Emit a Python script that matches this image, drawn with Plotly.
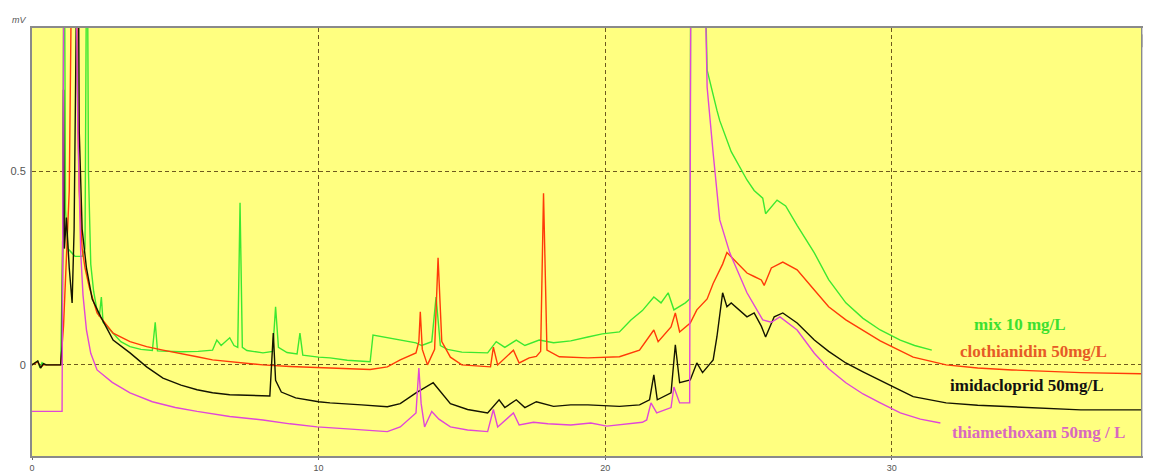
import plotly.graph_objects as go

# ---------------- data (time in min, signal in mV) ----------------
mix_t = [0, 0.2, 0.28, 0.35, 0.45, 1.0, 1.07, 1.12, 1.17, 1.25, 1.5, 1.75, 1.85, 1.92, 1.97, 2.05, 2.15, 2.27,
         2.35, 2.42, 2.48, 2.6, 2.83, 3.1, 3.42, 3.8, 4.2, 4.3, 4.38, 4.6, 5.2, 5.8, 6.3, 6.45, 6.6, 6.9, 7.05,
         7.18, 7.26, 7.34, 7.5, 8.06, 8.4, 8.5, 8.6, 8.9, 9.25, 9.35, 9.45, 10.0, 10.4, 11.0, 11.8, 11.9, 12.4,
         13.0, 13.4, 13.6, 13.95, 14.1, 14.25, 14.5, 15.0, 15.9, 16.2, 16.5, 16.9, 17.2, 17.7, 18.2, 18.8, 19.4,
         19.9, 20.5, 20.9, 21.3, 21.7, 21.95, 22.2, 22.4, 22.8, 22.95, 23.0, 23.4, 23.56, 23.9, 24.0, 24.4,
         24.95, 25.2, 25.5, 25.6, 26.0, 26.3, 26.7, 27.3, 27.8, 28.4, 29.0, 29.6, 30.3, 30.8, 31.4]
mix_v = [0, 0.01, -0.008, 0.006, 0, 0, 0.3, 1.3, 0.4, 0.3, 0.28, 0.28, 0.3, 1.3, 0.5, 0.26, 0.19, 0.14,
         0.125, 0.175, 0.11, 0.1, 0.082, 0.06, 0.047, 0.04, 0.037, 0.11, 0.036, 0.035, 0.034, 0.035, 0.038, 0.064,
         0.05, 0.07, 0.05, 0.045, 0.418, 0.045, 0.037, 0.031, 0.035, 0.15, 0.045, 0.032, 0.028, 0.082, 0.025,
         0.02, 0.018, 0.012, 0.008, 0.077, 0.07, 0.062, 0.057, 0.05, 0.06, 0.175, 0.05, 0.04, 0.033, 0.031,
         0.06, 0.045, 0.064, 0.05, 0.064, 0.057, 0.062, 0.072, 0.08, 0.085, 0.116, 0.14, 0.175, 0.16, 0.186,
         0.142, 0.16, 0.17, 1.3, 1.3, 0.76, 0.657, 0.63, 0.55, 0.477, 0.45, 0.43, 0.39, 0.425, 0.41, 0.36,
         0.289, 0.22, 0.16, 0.12, 0.09, 0.064, 0.05, 0.038]

clo_t = [0, 0.2, 0.3, 0.4, 1.0, 1.1, 1.3, 1.42, 1.55, 1.58, 1.65, 1.75, 1.85, 2.0, 2.27, 2.83, 3.42, 4.0, 4.57,
         5.2, 5.76, 6.3, 6.9, 7.5, 8.06, 9.0, 10.4, 11.0, 11.8, 12.4, 12.85, 13.4, 13.5, 13.55, 13.62, 13.8,
         14.05, 14.17, 14.3, 14.6, 15.0, 16.0, 16.1, 16.25, 16.8, 17.0, 17.35, 17.6, 17.75, 17.85, 17.97, 18.4,
         19.4, 20.5, 21.2, 21.7, 21.85, 22.3, 22.45, 22.6, 22.97, 23.2, 23.56, 23.77, 24.1, 24.25, 24.6, 24.95,
         25.2, 25.45, 25.55, 25.8, 26.2, 26.7, 27.3, 27.8, 28.4, 29.0, 29.6, 30.2, 30.75, 31.9, 33.0, 34.2,
         35.4, 36.6, 38.7]
clo_v = [0, 0.008, -0.006, 0, 0, 0.1, 0.45, 1.3, 1.3, 0.75, 0.45, 0.3, 0.25, 0.2, 0.134, 0.082, 0.06, 0.047,
         0.038, 0.028, 0.021, 0.013, 0.008, 0.004, 0, -0.004, -0.008, -0.01, -0.012, -0.005, 0.013, 0.031, 0.06,
         0.137, 0.04, 0.0, 0.04, 0.276, 0.06, 0.02, 0.0, -0.005, 0.046, 0.0, 0.038, 0.005, 0.018, 0.022, 0.035,
         0.443, 0.038, 0.021, 0.018, 0.021, 0.038, 0.09, 0.06, 0.098, 0.134, 0.085, 0.108, 0.142, 0.17, 0.21,
         0.26, 0.29, 0.263, 0.237, 0.228, 0.219, 0.205, 0.25, 0.265, 0.245, 0.193, 0.15, 0.116, 0.088, 0.062,
         0.04, 0.02, 0.0, -0.008, -0.013, -0.017, -0.02, -0.023]

imi_t = [0, 0.2, 0.3, 0.4, 0.5, 1.0, 1.05, 1.1, 1.13, 1.2, 1.3, 1.4, 1.47, 1.52, 1.6, 1.65, 1.75, 1.9, 2.1, 2.4,
         2.83, 3.42, 4.0, 4.57, 5.2, 5.76, 6.3, 6.9, 7.5, 8.3, 8.42, 8.5, 8.7, 9.2, 10.0, 10.4, 11.5, 12.4,
         12.85, 13.4, 14.0, 14.2, 14.6, 15.2, 15.9, 16.3, 16.5, 16.9, 17.2, 17.6, 18.2, 18.8, 19.4, 20.5, 21.2,
         21.55, 21.7, 21.82, 22.3, 22.45, 22.6, 22.97, 23.2, 23.4, 23.77, 23.9, 24.1, 24.25, 24.4, 24.95, 25.2,
         25.45, 25.6, 25.9, 26.2, 26.7, 27.3, 27.8, 28.4, 29.0, 29.6, 30.2, 30.75, 31.9, 33.0, 34.2, 36.6, 38.7]
imi_v = [0, 0.01, -0.008, 0.003, 0, 0, 0.05, 0.71, 0.3, 0.38, 0.25, 0.16, 0.35, 1.3, 1.3, 0.6, 0.35, 0.25, 0.17,
         0.124, 0.064, 0.031, -0.005, -0.034, -0.052, -0.064, -0.072, -0.077, -0.078, -0.08, 0.082, -0.04,
         -0.07, -0.085, -0.095, -0.098, -0.103, -0.108, -0.1, -0.072, -0.046, -0.065, -0.1, -0.115, -0.124,
         -0.09, -0.11, -0.09, -0.11, -0.095, -0.107, -0.103, -0.103, -0.107, -0.103, -0.09, -0.026, -0.09,
         -0.072, 0.052, -0.046, -0.039, 0.005, -0.02, 0.013, 0.072, 0.186, 0.15, 0.16, 0.124, 0.134, 0.1,
         0.072, 0.124, 0.134, 0.108, 0.064, 0.035, 0.005, -0.018, -0.039, -0.062, -0.082, -0.098, -0.104,
         -0.108, -0.116, -0.116]

thi_t = [0, 1.05, 1.08, 1.13, 1.5, 1.6, 1.7, 1.78, 1.9, 2.05, 2.27, 2.8, 3.42, 4.2, 5.0, 5.76, 6.9, 8.06, 9.0,
         9.95, 11.0, 12.4, 12.85, 13.4, 13.5, 13.58, 13.7, 13.95, 14.2, 14.6, 15.2, 15.9, 16.1, 16.25, 16.8,
         17.0, 17.5, 18.0, 18.8, 19.5, 20.06, 20.5, 21.3, 21.45, 21.6, 21.8, 22.3, 22.4, 22.6, 22.95, 23.0,
         23.4, 23.56, 23.77, 24.0, 24.35, 24.95, 25.5, 25.8, 26.1, 26.7, 27.3, 27.8, 28.4, 29.0, 29.6, 30.3,
         31.0, 31.7]
thi_v = [-0.12, -0.12, 0.5, 1.3, 1.3, 0.6, 0.29, 0.18, 0.09, 0.03, -0.013, -0.045, -0.072, -0.095, -0.11,
         -0.12, -0.133, -0.142, -0.152, -0.16, -0.165, -0.172, -0.16, -0.124, -0.008, -0.1, -0.16, -0.12,
         -0.14, -0.16, -0.168, -0.172, -0.115, -0.16, -0.124, -0.155, -0.148, -0.152, -0.155, -0.15, -0.158,
         -0.155, -0.148, -0.142, -0.098, -0.124, -0.11, -0.057, -0.098, -0.098, 1.3, 1.3, 0.716, 0.546,
         0.374, 0.289, 0.186, 0.116, 0.11, 0.124, 0.09, 0.03, -0.01, -0.046, -0.075, -0.098, -0.124, -0.14,
         -0.15]

x_ticks = [0, 10, 20, 30]
y_ticks = [0, 0.5]
y_tick_labels = ["0", "0.5"]

series = [
    ("mix 10 mg/L", mix_t, mix_v, "#3ce830"),
    ("clothianidin 50mg/L", clo_t, clo_v, "#ff3a08"),
    ("imidacloprid 50mg/L", imi_t, imi_v, "#141400"),
    ("thiamethoxam 50mg / L", thi_t, thi_v, "#e046d8"),
]
label_colors = ["#3ce030", "#e65a26", "#111111", "#d868c0"]
label_pos = [(34.49, 0.103), (34.94, 0.034), (34.69, -0.054), (35.11, -0.175)]

fig = go.Figure()
for name, t, v, c in series:
    fig.add_trace(go.Scatter(x=t, y=v, mode="lines", name=name,
                             line=dict(color=c, width=1.4), hoverinfo="skip"))

for (name, _, _, _), lc, (lx, ly) in zip(series, label_colors, label_pos):
    fig.add_annotation(x=lx, y=ly, xref="x", yref="y", text="<b>%s</b>" % name, showarrow=False,
                       font=dict(family="Liberation Serif", size=17, color=lc))

grid = "#6e5a1e"
# the page body adds an 8px offset; the figure is sized to fill the rest of the 1151x473 window
fig.update_layout(
    width=1143, height=465,
    margin=dict(l=24, r=10, t=20, b=17, autoexpand=False),
    paper_bgcolor="white",
    plot_bgcolor="#ffff80",
    showlegend=False,
    xaxis=dict(range=[0, 38.7], tickvals=x_ticks, ticks="outside", ticklen=2, tickcolor="#666",
               automargin=False,
               showgrid=True, gridcolor=grid, griddash="4px,3px", gridwidth=1,
               zeroline=False, showline=True, linecolor="#8a8a8a", linewidth=2, mirror=True,
               tickfont=dict(family="Liberation Sans", size=9, color="#555")),
    yaxis=dict(range=[-0.235, 0.869], tickvals=y_ticks, ticktext=y_tick_labels, ticks="",
               automargin=False, ticklabelstandoff=2,
               showgrid=True, gridcolor=grid, griddash="4px,3px", gridwidth=1,
               zeroline=False, showline=True, linecolor="#8a8a8a", linewidth=2, mirror=True,
               tickfont=dict(family="Liberation Sans", size=11, color="#555")),
)

# unit labels
fig.add_annotation(x=-0.012, y=1.0, xref="paper", yref="paper", yanchor="bottom", xanchor="center",
                   text="<i>mV</i>", showarrow=False, yshift=1,
                   font=dict(family="Liberation Sans", size=9, color="#555"))
fig.add_annotation(x=1.0015, y=0, xref="paper", yref="paper", yanchor="top", xanchor="left",
                   text="m", showarrow=False, yshift=-1,
                   font=dict(family="Liberation Sans", size=9, color="#555"))

# scrollbar strip at right
fig.add_shape(type="rect", xref="paper", yref="paper", x0=1.001, x1=1.012, y0=0, y1=1,
              fillcolor="#d8d8d8", line=dict(width=0), layer="above")
fig.add_shape(type="rect", xref="paper", yref="paper", x0=1.002, x1=1.012, y0=0.955, y1=0.985,
              fillcolor="#f0f0f0", line=dict(color="#555", width=1), layer="above")
fig.add_shape(type="rect", xref="paper", yref="paper", x0=1.002, x1=1.012, y0=0.0, y1=0.01,
              fillcolor="#3050c0", line=dict(width=0), layer="above")

fig.write_html("out.html")
